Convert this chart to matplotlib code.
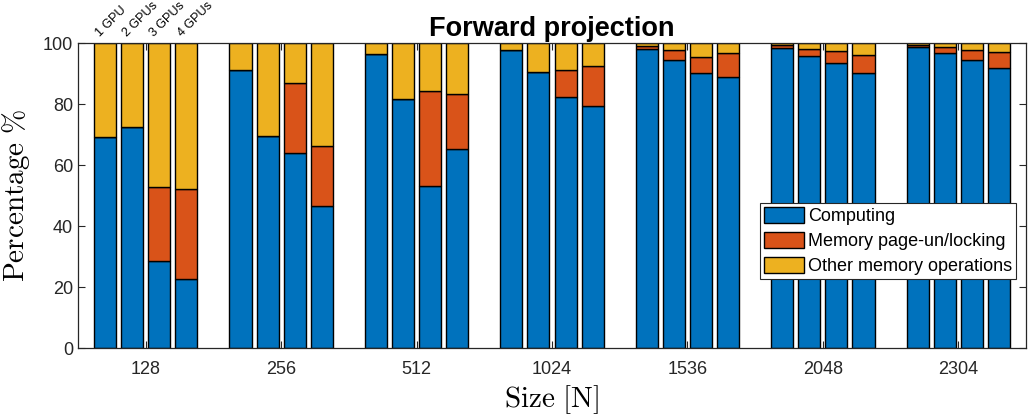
import matplotlib
matplotlib.use("Agg")
import matplotlib.pyplot as plt
import numpy as np

plt.rcParams['font.family'] = ['Liberation Sans', 'DejaVu Sans']
plt.rcParams['mathtext.fontset'] = 'cm'

sizes = ['128', '256', '512', '1024', '1536', '2048', '2304']
gpu_labels = ['1 GPU', '2 GPUs', '3 GPUs', '4 GPUs']
series_names = ['Computing', 'Memory page-un/locking', 'Other memory operations']

computing = [
    [69.3, 72.5, 28.6, 22.8],
    [91.4, 69.5, 63.9, 46.6],
    [96.6, 81.6, 53.1, 65.2],
    [97.9, 90.7, 82.5, 79.6],
    [98.1, 94.6, 90.4, 88.8],
    [98.6, 95.9, 93.7, 90.4],
    [98.9, 96.9, 94.6, 92.0],
]
locking = [
    [0.0, 0.0, 24.2, 29.4],
    [0.0, 0.0, 23.2, 19.7],
    [0.0, 0.0, 31.4, 18.3],
    [0.0, 0.0, 8.6, 12.8],
    [1.1, 3.3, 5.2, 8.1],
    [0.8, 2.2, 3.9, 5.9],
    [0.5, 1.8, 3.3, 5.3],
]
other = [[100.0 - c - l for c, l in zip(cr, lr)] for cr, lr in zip(computing, locking)]

colors = ['#0072BD', '#D95319', '#EDB120']
axcol = '#262626'

comp = np.array(computing)
lock = np.array(locking)
oth = np.array(other)

fig = plt.figure(figsize=(10.32, 4.2), dpi=100)
ax = fig.add_axes([78/1032, (420-348.3)/420, 948/1032, 305/420])

x = np.arange(1, len(sizes) + 1)
offsets = [-0.3, -0.1, 0.1, 0.3]
width = 0.163
for j, off in enumerate(offsets):
    xs = x + off
    ax.bar(xs, comp[:, j], width, color=colors[0], edgecolor='black', linewidth=1.0,
           label=series_names[0] if j == 0 else None)
    ax.bar(xs, lock[:, j], width, bottom=comp[:, j], color=colors[1], edgecolor='black',
           linewidth=1.0, label=series_names[1] if j == 0 else None)
    ax.bar(xs, oth[:, j], width, bottom=comp[:, j] + lock[:, j], color=colors[2],
           edgecolor='black', linewidth=1.0, label=series_names[2] if j == 0 else None)

for j, off in enumerate(offsets):
    ax.text(1 + off - 0.02, 101.5, gpu_labels[j], rotation=45, rotation_mode='anchor',
            ha='left', va='bottom', fontsize=9, color='black')

ax.set_xlim(0.5, 7.5)
ax.set_ylim(0, 100)
ax.set_xticks(x)
ax.set_xticklabels(sizes)
ax.set_yticks(np.arange(0, 101, 20))
ax.tick_params(axis='both', direction='in', colors=axcol, labelsize=13, length=5,
               top=True, right=True, width=0.8)
ax.tick_params(axis='x', pad=9)
for s in ax.spines.values():
    s.set_color(axcol)
    s.set_linewidth(0.9)

ax.set_title('Forward projection', fontsize=19.5, fontweight='bold', pad=5)
ax.set_xlabel(r'$\mathrm{Size\ [N]}$', fontsize=21, labelpad=4)
ax.set_ylabel(r'$\mathrm{Percentage}\ \%$', fontsize=21, labelpad=8)

leg = ax.legend(loc='upper left', bbox_to_anchor=(0.719, 0.477), borderaxespad=0,
                fontsize=13, fancybox=False, framealpha=1, edgecolor=axcol,
                handlelength=2.25, handleheight=1.0, handletextpad=0.2,
                labelspacing=0.38, borderpad=0.22)
leg.get_frame().set_linewidth(0.8)

fig.savefig('out.png', dpi=100)
